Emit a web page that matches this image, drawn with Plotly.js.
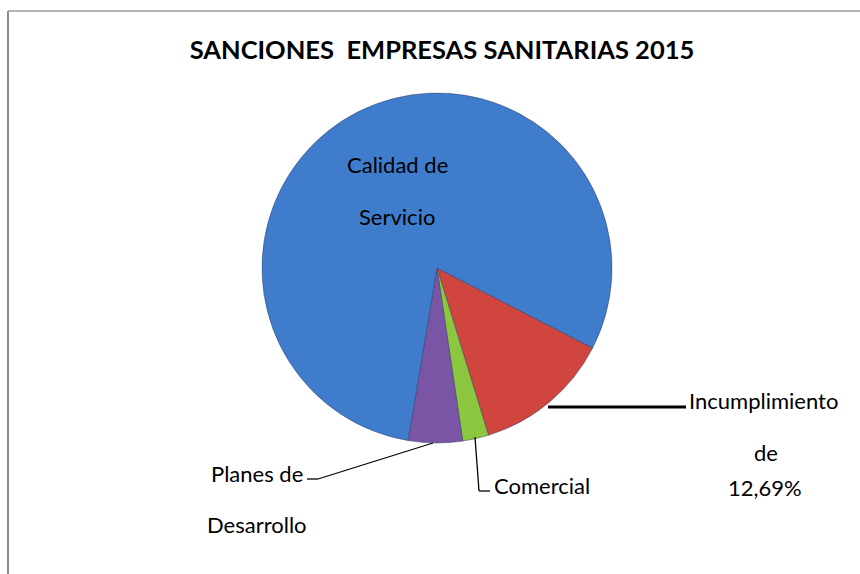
<!DOCTYPE html>
<html>
<head>
<meta charset="utf-8">
<script src="https://cdn.plot.ly/plotly-3.0.1.min.js"></script>
<style>html,body{margin:0;padding:0;background:#fff;}#chart{width:860px;height:574px;}</style>
</head>
<body>
<div id="chart"></div>
<script>
// Data
const categories = ["Incumplimiento de", "Comercial", "Planes de Desarrollo", "Calidad de Servicio"];
const values = [12.69, 2.4, 5.0, 79.91];
const sliceColors = ["#D0463F", "#8DC63F", "#7A55A6", "#3F7CCB"];
const chartTitle = "SANCIONES  EMPRESAS SANITARIAS 2015";
const valueLabel = "12,69%";

const W = 860, H = 574;
const px = x => x / W;
const py = y => 1 - y / H;

const trace = {
  type: "pie",
  labels: categories,
  values: values,
  sort: false,
  direction: "clockwise",
  rotation: 117.2,
  textinfo: "none",
  hoverinfo: "label+percent",
  marker: { colors: sliceColors, line: { color: "rgba(40,50,90,0.45)", width: 1 } },
  domain: { x: [px(262), px(612)], y: [py(443), py(93)] },
  showlegend: false
};

const txtFont = { family: "Lato, 'Open Sans', sans-serif", size: 22, color: "#000" };
function ann(text, x, y, xanchor) {
  return { text: text, x: px(x), y: py(y), xref: "paper", yref: "paper", showarrow: false,
           xanchor: xanchor || "center", yanchor: "middle", font: txtFont };
}

const annotations = [
  ann("Calidad de", 397, 164),
  ann("Servicio", 397, 216),
  ann("Incumplimiento", 687, 400, "left"),
  ann("de", 766, 452),
  ann(valueLabel, 765, 487),
  ann("Comercial", 492, 485, "left"),
  ann("Planes de", 305, 473, "right"),
  ann("Desarrollo", 257, 524)
];

function seg(x0, y0, x1, y1, color, width) {
  return { type: "line", xref: "paper", yref: "paper", x0: px(x0), y0: py(y0), x1: px(x1), y1: py(y1),
           line: { color: color, width: width } };
}

const shapes = [
  seg(8, 11, 860, 11, "#b5b5b5", 2),
  seg(8, 11, 8, 574, "#8c8c8c", 2),
  seg(548, 407, 686, 407, "#000", 3),
  seg(475, 437, 479, 491, "#000", 1.3),
  seg(479, 491, 490, 491, "#000", 1.3),
  seg(307, 479, 318, 479, "#000", 1.3),
  seg(318, 479, 433, 443, "#000", 1.3)
];

const layout = {
  width: W, height: H,
  margin: { l: 0, r: 0, t: 0, b: 0 },
  paper_bgcolor: "#fff",
  title: { text: "<b>" + chartTitle + "</b>", x: px(442), xanchor: "center", y: py(50), yanchor: "middle",
           font: { family: "Lato, 'Open Sans', sans-serif", size: 25.5, color: "#000" } },
  annotations: annotations,
  shapes: shapes
};

Plotly.newPlot("chart", [trace], layout, { displayModeBar: false, staticPlot: true });
</script>
</body>
</html>
